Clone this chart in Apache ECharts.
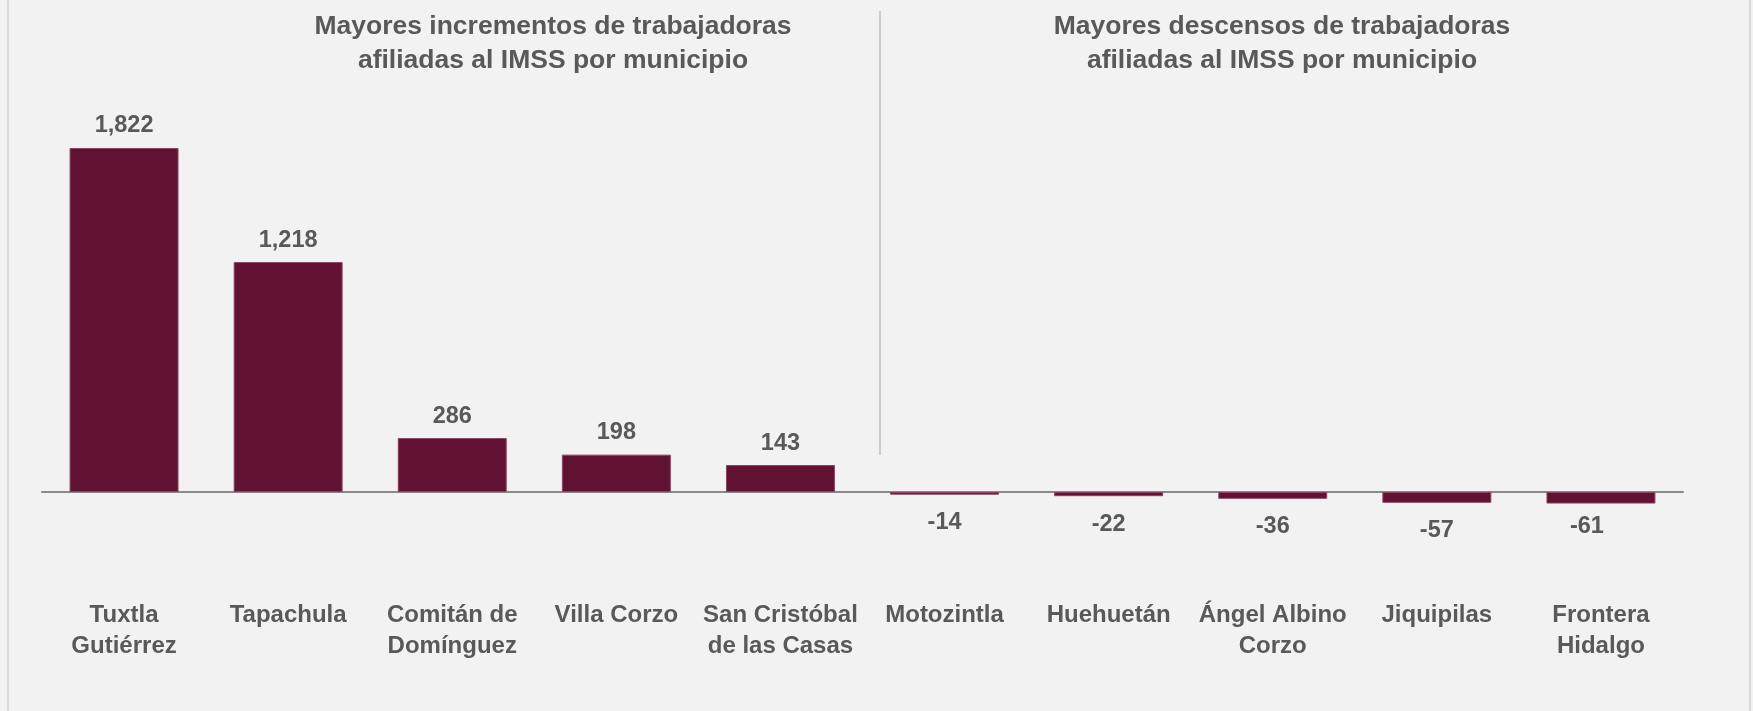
<!DOCTYPE html>
<html>
<head>
<meta charset="utf-8">
<script src="https://cdn.jsdelivr.net/npm/echarts@6/dist/echarts.min.js"></script>
<style>
  html, body { margin: 0; padding: 0; background: #f2f2f2; }
  #chart { width: 1753px; height: 711px; }
</style>
</head>
<body>
<div id="chart"></div>
<script>
const categories = [
  'Tuxtla\nGutiérrez', 'Tapachula', 'Comitán de\nDomínguez', 'Villa Corzo', 'San Cristóbal\nde las Casas',
  'Motozintla', 'Huehuetán', 'Ángel Albino\nCorzo', 'Jiquipilas', 'Frontera\nHidalgo'
];
const values = [1822, 1218, 286, 198, 143, -14, -22, -36, -57, -61];
const titleLeft = 'Mayores incrementos de trabajadoras\nafiliadas al IMSS por municipio';
const titleRight = 'Mayores descensos de trabajadoras\nafiliadas al IMSS por municipio';

const FONT = "'Liberation Sans', Arial, Helvetica, sans-serif";
const TEXT = '#595959';
const BAR = '#611232';

const chart = echarts.init(document.getElementById('chart'), null, { renderer: 'canvas' });

const seriesData = values.map((v, i) => {
  const item = { value: v };
  item.label = {
    position: v >= 0 ? 'top' : 'bottom',
    distance: v >= 0 ? 10 : 16
  };
  if (i === values.length - 1) item.label.offset = [-14, -5];
  return item;
});

chart.setOption({
  backgroundColor: '#f2f2f2',
  animation: false,
  grid: { left: 42, right: 70, top: 114.4, bottom: 181.2, containLabel: false },
  xAxis: {
    type: 'category',
    data: categories,
    axisLine: { show: true, onZero: true, lineStyle: { color: '#898989', width: 2 } },
    axisTick: { show: false },
    axisLabel: {
      interval: 0,
      margin: 70,
      color: TEXT,
      fontFamily: FONT,
      fontWeight: 'bold',
      fontSize: 24,
      lineHeight: 31,
      align: 'center'
    },
    splitLine: { show: false }
  },
  yAxis: {
    type: 'value',
    min: -200,
    max: 2000,
    show: false,
    splitLine: { show: false }
  },
  series: [{
    type: 'bar',
    data: seriesData,
    barCategoryGap: '33.6%',
    itemStyle: { color: BAR, borderColor: '#8c4563', borderWidth: 1 },
    label: {
      show: true,
      color: TEXT,
      fontFamily: FONT,
      fontWeight: 'bold',
      fontSize: 23.5,
      formatter: p => p.value.toLocaleString('en-US')
    }
  }],
  graphic: [
    {
      type: 'rect',
      shape: { x: 8, y: -5, width: 1742, height: 725 },
      style: { fill: 'none', stroke: '#d9d9d9', lineWidth: 2 },
      silent: true
    },
    {
      type: 'line',
      shape: { x1: 880, y1: 11, x2: 880, y2: 455 },
      style: { stroke: '#bfbfbf', lineWidth: 1.5 },
      silent: true
    },
    {
      type: 'text',
      x: 553, y: 10,
      style: {
        text: titleLeft, align: 'center', verticalAlign: 'top',
        fontFamily: FONT, fontWeight: 'bold', fontSize: 26.5, lineHeight: 33.5, fill: TEXT
      }
    },
    {
      type: 'text',
      x: 1282, y: 10,
      style: {
        text: titleRight, align: 'center', verticalAlign: 'top',
        fontFamily: FONT, fontWeight: 'bold', fontSize: 26.5, lineHeight: 33.5, fill: TEXT
      }
    }
  ]
});
</script>
</body>
</html>
